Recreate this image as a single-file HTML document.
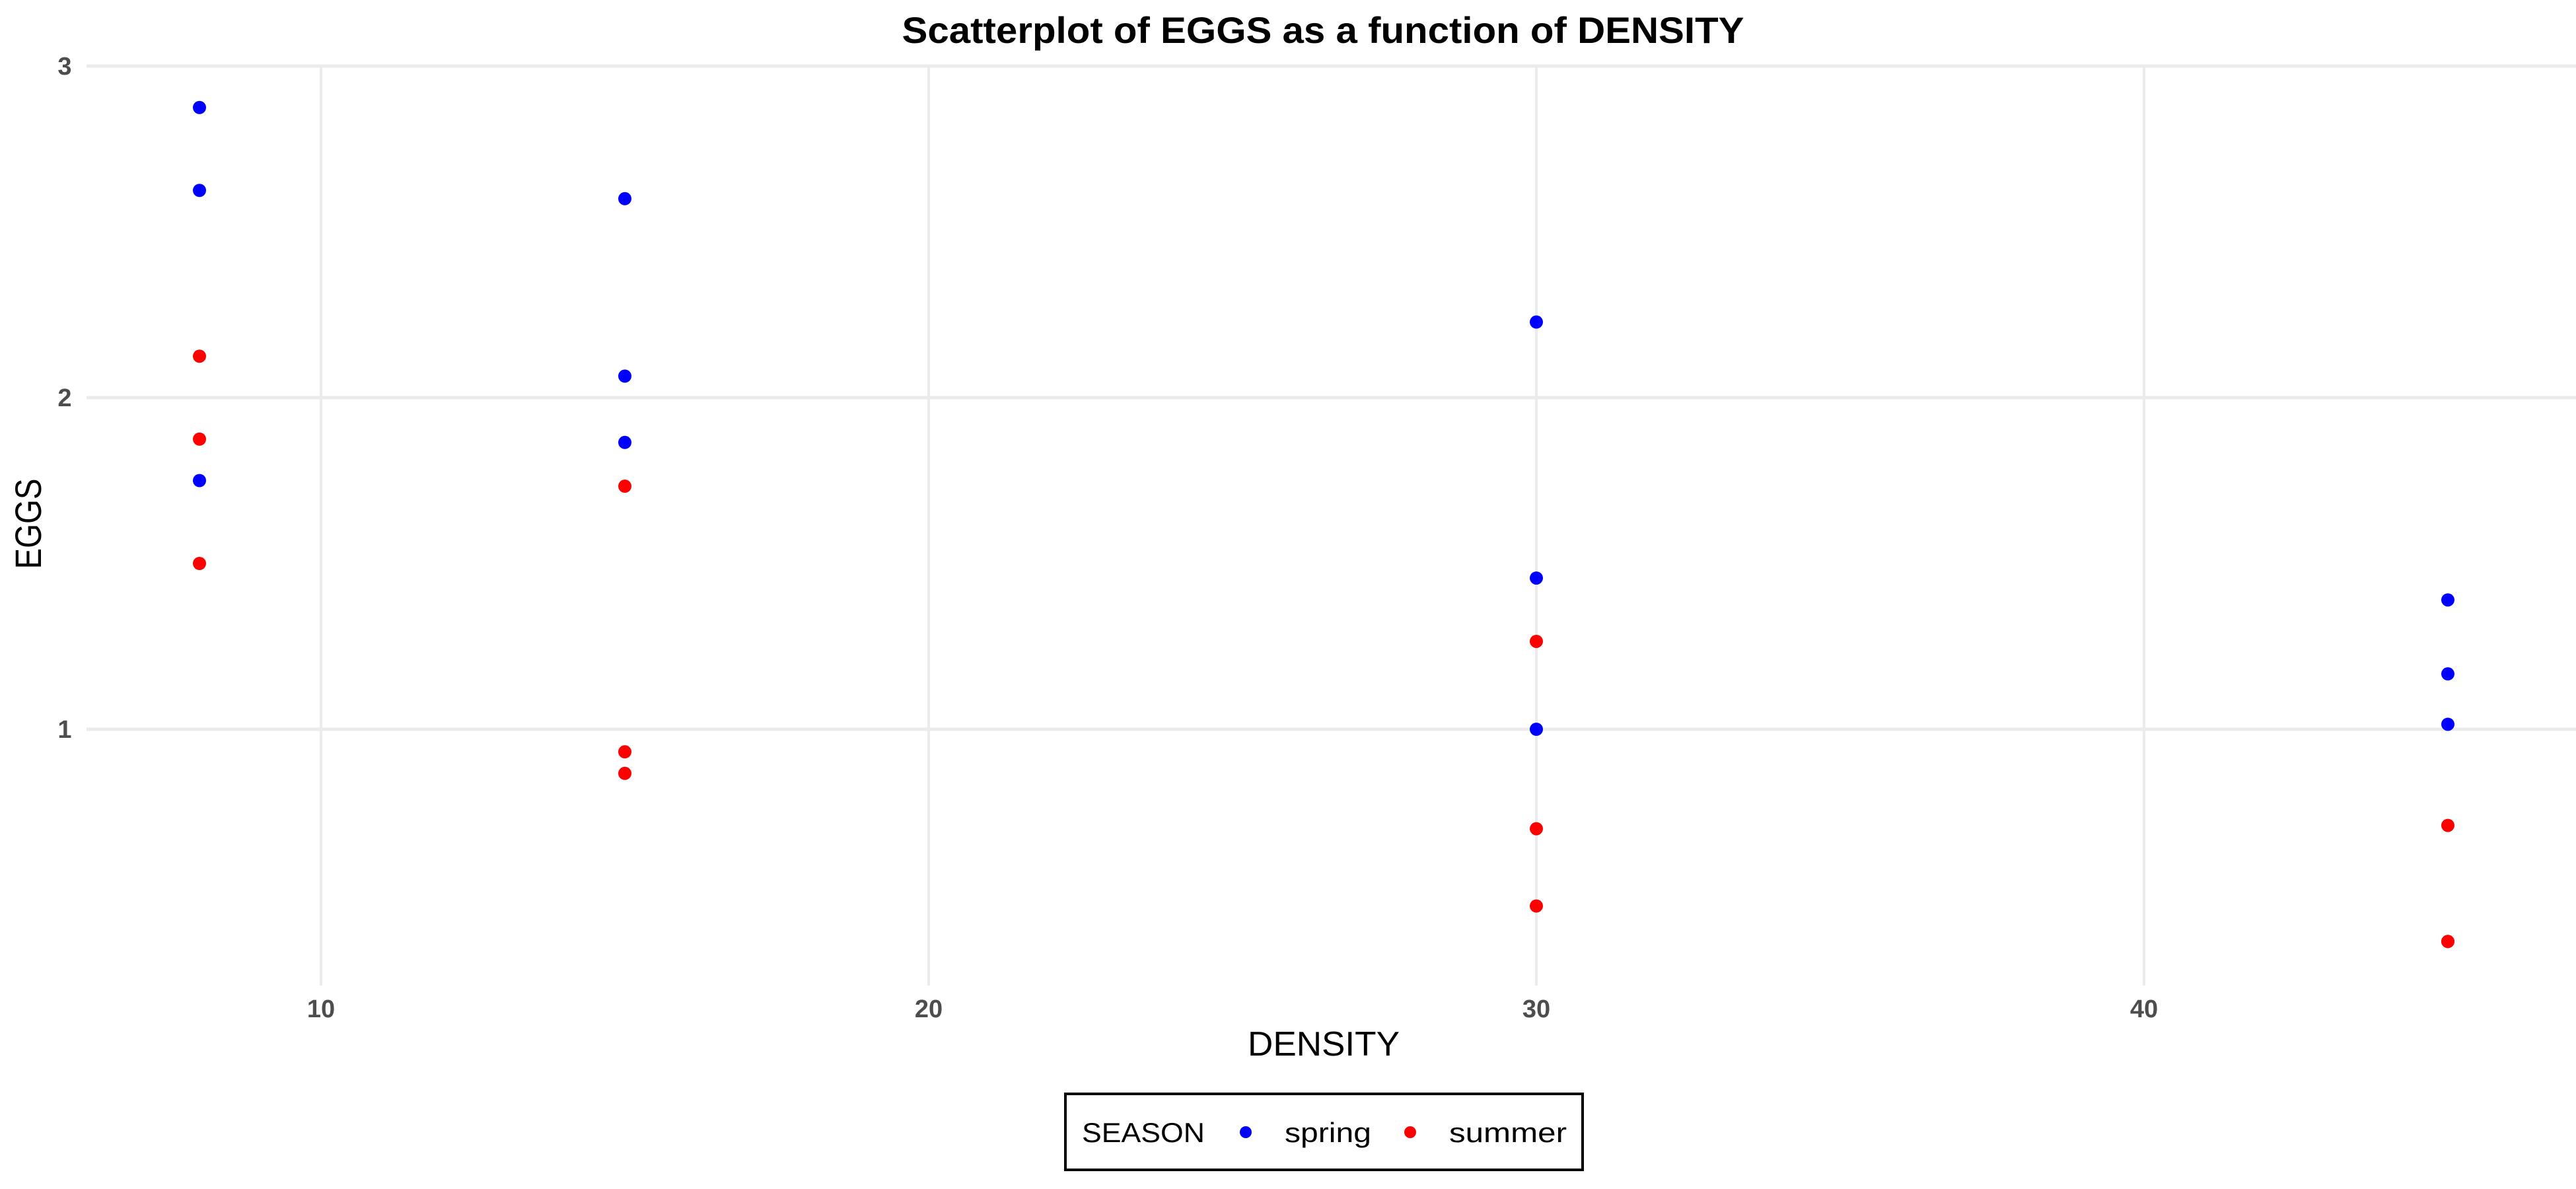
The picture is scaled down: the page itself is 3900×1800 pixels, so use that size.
<!DOCTYPE html>
<html><head><meta charset="utf-8"><style>
html,body{margin:0;padding:0;background:#fff;}
svg{display:block;font-family:"Liberation Sans",sans-serif;}
</style></head><body>
<svg id="chart" width="3900" height="1800" viewBox="0 0 3900 1800">
<text x="2003" y="65" text-anchor="middle" font-size="56" font-weight="bold" fill="#000" textLength="1275" lengthAdjust="spacingAndGlyphs">Scatterplot of EGGS as a function of DENSITY</text>
<g id="grid"></g>
<g id="ticks"></g>
<g id="points"></g>
<text x="2004" y="1598" text-anchor="middle" font-size="52" fill="#000" textLength="230" lengthAdjust="spacingAndGlyphs">DENSITY</text>
<text transform="translate(62,793) rotate(-90)" text-anchor="middle" font-size="56" fill="#000" textLength="137" lengthAdjust="spacingAndGlyphs">EGGS</text>
<g>
<rect x="1613" y="1656" width="783" height="115" fill="#fff" stroke="#000" stroke-width="4"/>
<text x="1638" y="1729" font-size="42" fill="#000" textLength="186" lengthAdjust="spacingAndGlyphs">SEASON</text>
<circle cx="1886" cy="1714" r="9" fill="#0000ff"/>
<text x="1945" y="1729" font-size="42" fill="#000" textLength="131" lengthAdjust="spacingAndGlyphs">spring</text>
<circle cx="2135" cy="1714" r="9" fill="#ff0000"/>
<text x="2194" y="1729" font-size="42" fill="#000" textLength="178" lengthAdjust="spacingAndGlyphs">summer</text>
</g>
</svg>
<script>
const xTicks = [10, 20, 30, 40];
const yTicks = [1, 2, 3];
const springX = [8, 8, 8, 15, 15, 15, 30, 30, 30, 45, 45, 45];
const springY = [2.875, 2.625, 1.75, 2.6, 2.065, 1.865, 2.228, 1.456, 1.0, 1.39, 1.167, 1.015];
const summerX = [8, 8, 8, 15, 15, 15, 30, 30, 30, 45, 45, 45];
const summerY = [2.125, 1.875, 1.5, 1.733, 0.932, 0.867, 1.265, 0.7, 0.467, 0.71, 0.36, 0.36];
const NS = "http://www.w3.org/2000/svg";
const L = 131, R = 3900, T = 100, B = 1492;
function xs(v){ return 486 + (v - 10) * 92; }
function ys(v){ return 100 + (3 - v) * 502; }
const grid = document.getElementById('grid');
const ticks = document.getElementById('ticks');
xTicks.forEach(v => {
  const ln = document.createElementNS(NS, 'line');
  ln.setAttribute('x1', xs(v)); ln.setAttribute('x2', xs(v));
  ln.setAttribute('y1', T); ln.setAttribute('y2', B);
  ln.setAttribute('stroke', '#ebebeb'); ln.setAttribute('stroke-width', '4');
  
  
  grid.appendChild(ln);
  const t = document.createElementNS(NS, 'text');
  t.setAttribute('x', xs(v)); t.setAttribute('y', 1540);
  t.setAttribute('text-anchor', 'middle'); t.setAttribute('font-size', '38');
  t.setAttribute('font-weight', 'bold'); t.setAttribute('fill', '#4d4d4d');
  t.textContent = v;
  
  
  ticks.appendChild(t);
});
yTicks.forEach(v => {
  const ln = document.createElementNS(NS, 'line');
  ln.setAttribute('x1', L); ln.setAttribute('x2', R);
  ln.setAttribute('y1', ys(v)); ln.setAttribute('y2', ys(v));
  ln.setAttribute('stroke', '#ebebeb'); ln.setAttribute('stroke-width', '5');
  
  
  grid.appendChild(ln);
  const t = document.createElementNS(NS, 'text');
  t.setAttribute('x', 98); t.setAttribute('y', ys(v) + 13);
  t.setAttribute('text-anchor', 'middle'); t.setAttribute('font-size', '38');
  t.setAttribute('font-weight', 'bold'); t.setAttribute('fill', '#4d4d4d');
  t.textContent = v;
  
  
  ticks.appendChild(t);
});
const pts = document.getElementById('points');
function draw(xa, ya, color, name){
  xa.forEach((x, i) => {
    const c = document.createElementNS(NS, 'circle');
    c.setAttribute('cx', xs(x)); c.setAttribute('cy', ys(ya[i]));
    c.setAttribute('r', 10); c.setAttribute('fill', color);
    
    
    pts.appendChild(c);
  });
}
draw(springX, springY, '#0000ff', 'spring-point');
draw(summerX, summerY, '#ff0000', 'summer-point');
</script>
</body></html>
